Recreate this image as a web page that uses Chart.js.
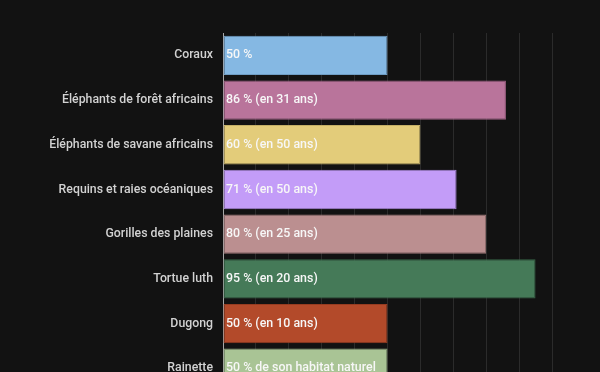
<!DOCTYPE html>
<html>
<head>
<meta charset="utf-8">
<script src="https://cdn.jsdelivr.net/npm/chart.js@4.4.1/dist/chart.umd.min.js"></script>
<style>
  html, body { margin: 0; padding: 0; background: #121212; overflow: hidden; }
  #wrap { width: 600px; height: 408px; position: relative; }
</style>
</head>
<body>
<div id="wrap"><canvas id="lossChart"></canvas></div>
<script>
// Espèces et perte de population / d'habitat (%)
const species = [
  "Coraux",
  "Éléphants de forêt africains",
  "Éléphants de savane africains",
  "Requins et raies océaniques",
  "Gorilles des plaines",
  "Tortue luth",
  "Dugong",
  "Rainette"
];
const losses = [50, 86, 60, 71, 80, 95, 50, 50];
const barTexts = [
  "50 %",
  "86 % (en 31 ans)",
  "60 % (en 50 ans)",
  "71 % (en 50 ans)",
  "80 % (en 25 ans)",
  "95 % (en 20 ans)",
  "50 % (en 10 ans)",
  "50 % de son habitat naturel"
];
const fillColors = ["#85b8e3", "#b9749b", "#e3cc7a", "#c39cf8", "#bb8f90", "#457a58", "#b34a2a", "#a9c495"];
const edgeColors = ["#6f9dc4", "#9c5f82", "#c4af66", "#a684d6", "#9f7879", "#386548", "#963c21", "#8fa87c"];

// draws the text inside each bar, from the bar elements' positions
const insideLabels = {
  id: "insideLabels",
  afterDatasetsDraw(chart) {
    const ctx = chart.ctx;
    const meta = chart.getDatasetMeta(0);
    ctx.save();
    ctx.font = "500 12.4px Roboto";
    ctx.fillStyle = "#f7f7f7";
    ctx.textBaseline = "middle";
    ctx.textAlign = "left";
    meta.data.forEach((bar, i) => {
      ctx.fillText(barTexts[i], bar.base + 2.5, bar.y);
    });
    ctx.restore();
  }
};

new Chart(document.getElementById("lossChart"), {
  type: "bar",
  data: {
    labels: species,
    datasets: [{
      data: losses,
      backgroundColor: fillColors,
      borderColor: edgeColors,
      borderWidth: 1,
      borderSkipped: false,
      categoryPercentage: 0.88,
      barPercentage: 1
    }]
  },
  options: {
    indexAxis: "y",
    responsive: true,
    maintainAspectRatio: false,
    animation: false,
    layout: { padding: { top: 33, right: 48, bottom: 12, left: 0 } },
    plugins: {
      legend: { display: false },
      tooltip: { enabled: false }
    },
    scales: {
      x: {
        min: 0,
        max: 100,
        ticks: { display: false, stepSize: 10 },
        grid: { color: "#2b2b2b", drawTicks: false },
        border: { display: false }
      },
      y: {
        afterFit: (scale) => { scale.width = 223; },
        ticks: {
          color: "#d2d2d2",
          font: { family: "Roboto", size: 12.3, weight: "500" },
          padding: 10
        },
        grid: { display: false, drawTicks: false },
        border: { display: true, color: "#a8a8a8", width: 1 }
      }
    }
  },
  plugins: [insideLabels]
});
</script>
</body>
</html>
